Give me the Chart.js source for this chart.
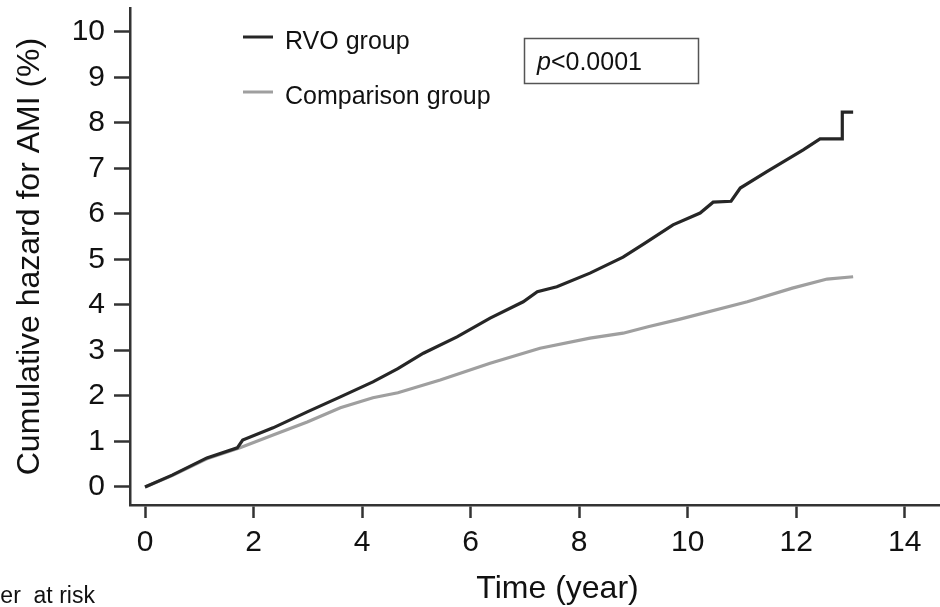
<!DOCTYPE html>
<html>
<head>
<meta charset="utf-8">
<script src="https://cdn.jsdelivr.net/npm/chart.js@4.4.1/dist/chart.umd.min.js"></script>
<style>
  html, body { margin: 0; padding: 0; background: #fff; overflow: hidden; }
  #wrap { position: relative; width: 940px; height: 607px; overflow: hidden; }
  #riskLabel {
    position: absolute; left: -61px; top: 582px;
    font: 23px "Liberation Sans", Arial, sans-serif; color: #111; white-space: nowrap;
  }
</style>
</head>
<body>
<div id="wrap">
  <canvas id="hazardChart" width="990" height="607"></canvas>
  <div id="riskLabel">Number&nbsp; at risk</div>
</div>
<script>
// time (years) and cumulative hazard (%)
const rvoTime = [0, 0.5, 1.14, 1.7, 1.8, 2.36, 2.99, 3.6, 4.2, 4.66, 5.13, 5.75, 6.36, 6.97, 7.23,
  7.59, 8.2, 8.81, 9.2, 9.73, 10.23, 10.47, 10.8, 10.97, 11.46, 12.13, 12.44, 12.85, 12.85, 13.05];
const rvoHazard = [0, 0.26, 0.64, 0.86, 1.03, 1.3, 1.65, 1.98, 2.31, 2.6, 2.94, 3.3, 3.71, 4.07, 4.29,
  4.4, 4.7, 5.05, 5.35, 5.76, 6.02, 6.26, 6.28, 6.57, 6.93, 7.41, 7.65, 7.65, 8.24, 8.24];

const compTime = [0, 0.5, 1.14, 1.75, 2.36, 2.99, 3.6, 4.2, 4.66, 5.44, 6.36, 7.28, 8.2, 8.81,
  9.27, 9.86, 11.1, 11.93, 12.57, 13.05];
const compHazard = [0, 0.25, 0.62, 0.86, 1.14, 1.43, 1.74, 1.96, 2.07, 2.35, 2.72, 3.05, 3.27, 3.38,
  3.52, 3.69, 4.07, 4.37, 4.57, 4.62];

const groupNames = ['RVO group', 'Comparison group'];
const groupColors = ['#262626', '#9f9f9f'];
const xTicks = [0, 2, 4, 6, 8, 10, 12, 14];
const yTicks = [0, 1, 2, 3, 4, 5, 6, 7, 8, 9, 10];
const pText = '<0.0001';

const FONT = '"Liberation Sans", Arial, sans-serif';
const AXIS = '#333333';

const toPoints = (xs, ys) => xs.map((x, i) => ({ x: x, y: ys[i] }));

// legend and p-value box, drawn by hand at the spots used in the figure
const annotations = {
  id: 'annotations',
  afterDraw(chart) {
    const { ctx } = chart;
    ctx.save();
    const rows = [37, 92];
    groupNames.forEach((name, i) => {
      ctx.strokeStyle = groupColors[i];
      ctx.lineWidth = 3;
      ctx.beginPath();
      ctx.moveTo(243, rows[i]);
      ctx.lineTo(273, rows[i]);
      ctx.stroke();
      ctx.fillStyle = '#111';
      ctx.font = '25px ' + FONT;
      ctx.textBaseline = 'alphabetic';
      ctx.fillText(name, 285, rows[i] + 12);
    });
    ctx.strokeStyle = '#555';
    ctx.lineWidth = 1.5;
    ctx.strokeRect(524.5, 38.5, 174, 45);
    ctx.fillStyle = '#111';
    ctx.font = 'italic 25px ' + FONT;
    ctx.fillText('p', 537, 70);
    const pw = ctx.measureText('p').width;
    ctx.font = '25px ' + FONT;
    ctx.fillText(pText, 537 + pw, 70);
    ctx.restore();
  },
};

new Chart(document.getElementById('hazardChart'), {
  type: 'line',
  data: {
    datasets: [
      {
        label: groupNames[0],
        data: toPoints(rvoTime, rvoHazard),
        borderColor: groupColors[0],
        borderWidth: 3.2,
        pointRadius: 0,
        tension: 0,
      },
      {
        label: groupNames[1],
        data: toPoints(compTime, compHazard),
        borderColor: groupColors[1],
        borderWidth: 3.2,
        pointRadius: 0,
        tension: 0,
      },
    ],
  },
  options: {
    responsive: false,
    animation: false,
    layout: { padding: { top: 8, right: 5, left: 0, bottom: 0 } },
    plugins: {
      legend: { display: false },
      tooltip: { enabled: false },
    },
    scales: {
      x: {
        type: 'linear',
        min: -0.2765,
        max: 15.48,
        afterBuildTicks: (scale) => { scale.ticks = xTicks.map((v) => ({ value: v })); },
        afterFit: (scale) => {
          scale.height = 102;
          scale.paddingLeft = 0;
          scale.paddingRight = 0;
        },
        border: { display: true, color: AXIS, width: 2.5 },
        grid: { drawOnChartArea: false, drawTicks: true, tickLength: 13, tickWidth: 2.5, tickColor: AXIS },
        ticks: { color: '#111', padding: 7, maxRotation: 0, autoSkip: false, font: { family: FONT, size: 30 } },
        title: {
          display: true,
          text: 'Time (year)',
          color: '#111',
          padding: { top: 0, bottom: 0 },
          font: { family: FONT, size: 32, lineHeight: 1.1 },
        },
      },
      y: {
        min: -0.396,
        max: 10.527,
        afterBuildTicks: (scale) => { scale.ticks = yTicks.map((v) => ({ value: v })); },
        afterFit: (scale) => {
          scale.width = 130;
          scale.paddingTop = 0;
          scale.paddingBottom = 0;
        },
        border: { display: true, color: AXIS, width: 2.5 },
        grid: { drawOnChartArea: false, drawTicks: true, tickLength: 16, tickWidth: 2.5, tickColor: AXIS },
        ticks: { color: '#111', padding: 9, autoSkip: false, font: { family: FONT, size: 30 } },
        title: {
          display: true,
          text: 'Cumulative hazard for AMI (%)',
          color: '#111',
          padding: { top: 13, bottom: 0 },
          font: { family: FONT, size: 32, lineHeight: 1.1 },
        },
      },
    },
  },
  plugins: [annotations],
});
</script>
</body>
</html>
